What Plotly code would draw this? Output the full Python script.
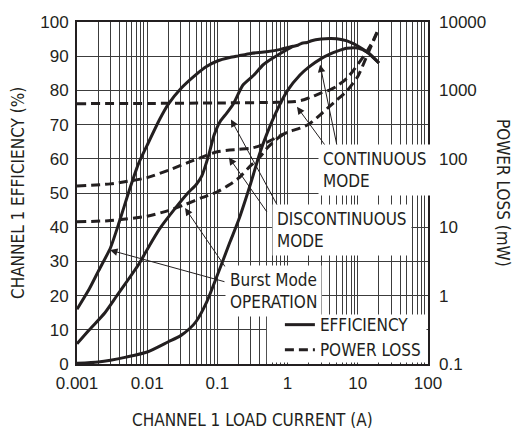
import plotly.graph_objects as go
import numpy as np

# ---------------- data ----------------
# Efficiency (%), solid lines
burst_eff_i = [0.001, 0.0015, 0.002, 0.003, 0.004, 0.0055, 0.0075, 0.01, 0.015, 0.02, 0.03, 0.05,
               0.07, 0.1, 0.15, 0.2, 0.3, 0.5, 0.8, 1.2, 1.4, 1.6, 1.9, 2.2, 3, 4, 5, 7, 10, 14, 20]
burst_eff = [16, 22, 27, 34, 41.5, 50.5, 58.5, 64, 71.5, 76, 80.5, 84.7,
             87, 88.6, 89.6, 90.1, 90.8, 91.3, 92.0, 92.9, 93.2, 93.8, 94.0, 94.5, 95.0, 95.2, 95.1, 94.5, 93.0, 91.0, 88.0]

disc_eff_i = [0.001, 0.0015, 0.0025, 0.0037, 0.0055, 0.0075, 0.01, 0.015, 0.025, 0.038, 0.05, 0.06,
              0.075, 0.09, 0.11, 0.135, 0.17, 0.23, 0.32, 0.45, 0.6, 0.87, 1.2]
disc_eff = [5.9, 10, 15, 20, 25, 29, 33.5, 39.5, 45.5, 50, 52.5, 55,
            61, 67, 71, 73.3, 76.2, 81.5, 84.2, 87.5, 89.3, 91.3, 92.9]

cont_eff_i = [0.001, 0.002, 0.003, 0.005, 0.01, 0.02, 0.03, 0.04, 0.05, 0.07, 0.1, 0.15, 0.2, 0.3,
              0.4, 0.5, 0.7, 1, 1.5, 2, 3, 4, 5, 7, 10, 14, 20]
cont_eff = [0.2, 0.6, 1.1, 2, 3.5, 6.5, 8.3, 10.3, 12.5, 18, 26, 35.5, 42, 53,
            61.5, 67, 74, 80, 84.5, 86.8, 89.3, 90.6, 91.4, 92.3, 92.4, 91, 88]

# Power loss (mW), dashed lines
cont_loss_i = [0.001, 0.01, 0.1, 0.5, 1.0, 1.3, 1.7, 2.3, 3, 4, 5, 7, 10, 13, 16, 20]
cont_loss = [640, 645, 655, 665, 675, 690, 730, 820, 920, 1020, 1150, 1500, 2400, 3500, 5000, 8200]

disc_loss_i = [0.001, 0.003, 0.01, 0.02, 0.04, 0.07, 0.1, 0.15, 0.2, 0.3, 0.4, 0.6, 0.8, 1, 1.5,
               2, 3, 4, 5, 7, 10, 14, 20]
disc_loss = [40, 43, 53, 68, 90, 112, 127, 134, 138, 143, 155, 190, 220, 245, 280,
             320, 450, 590, 720, 980, 1600, 3500, 8000]

burst_loss_i = [0.001, 0.003, 0.01, 0.02, 0.035, 0.06, 0.1, 0.15, 0.2, 0.3, 0.4, 0.5, 0.7, 0.9]
burst_loss = [12, 12.5, 14.5, 17.5, 21.5, 27, 33, 42, 52, 80, 105, 140, 195, 232]

x_ticks = [0.001, 0.01, 0.1, 1, 10, 100]
x_ticklabels = ["0.001", "0.01", "0.1", "1", "10", "100"]
y_ticks = [0, 10, 20, 30, 40, 50, 60, 70, 80, 90, 100]
y2_ticks = [0.1, 1, 10, 100, 1000, 10000]
y2_ticklabels = ["0.1", "1", "10", "100", "1000", "10000"]

# ---------------- styling ----------------
INK = "#231f20"
COND = "DejaVu Sans Condensed"
REG = "Liberation Sans"
LW = 3
DASH = "9px,5px"

fig = go.Figure()

def solid(x, y, show=False):
    fig.add_trace(go.Scatter(x=x, y=y, mode="lines", name="EFFICIENCY", showlegend=show,
                             line=dict(color=INK, width=LW, shape="spline", smoothing=0.6),
                             yaxis="y", legendrank=1))

def dashed(x, y, show=False):
    fig.add_trace(go.Scatter(x=x, y=y, mode="lines", name="POWER LOSS", showlegend=show,
                             line=dict(color=INK, width=LW, dash=DASH, shape="spline", smoothing=0.6),
                             yaxis="y2", legendrank=2))

solid(burst_eff_i, burst_eff, True)
solid(disc_eff_i, disc_eff)
solid(cont_eff_i, cont_eff)
dashed(cont_loss_i, cont_loss, True)
dashed(disc_loss_i, disc_loss)
dashed(burst_loss_i, burst_loss)

# full log grid positions: 1..9 x each decade
grid_vals = []
grid_text = []
for d in range(-3, 2):
    for m in range(1, 10):
        v = m * 10.0 ** d
        grid_vals.append(v)
        grid_text.append(x_ticklabels[x_ticks.index(v)] if m == 1 else "")
grid_vals.append(100)
grid_text.append("100")

GRID = "#3c3c3c"

# page body has an 8px margin: plot frame lands at page (77..428, 13..364)
fig.update_layout(
    width=516, height=427,
    margin=dict(l=69, r=96, t=5, b=71),
    paper_bgcolor="white", plot_bgcolor="white",
    font=dict(family=REG, color=INK, size=17),
    xaxis=dict(type="log", range=[-3, 2], tickmode="array", tickvals=grid_vals, ticktext=grid_text,
               showgrid=True, gridcolor=GRID, gridwidth=1, ticks="", ticklabelstandoff=3,
               showline=True, linecolor=INK, linewidth=2, mirror=True, zeroline=False,
               ticklabeloverflow="allow",
               tickfont=dict(family=REG, size=17, color=INK)),
    yaxis=dict(range=[0, 100], tickmode="array", tickvals=y_ticks, showgrid=True, gridcolor=GRID,
               gridwidth=1, ticks="", ticklabelstandoff=3, zeroline=False,
               showline=True, linecolor=INK, linewidth=2, mirror=True,
               ticklabeloverflow="allow",
               tickfont=dict(family=REG, size=17, color=INK)),
    yaxis2=dict(type="log", range=[-1, 4], overlaying="y", side="right", tickmode="array",
                tickvals=y2_ticks, ticktext=y2_ticklabels, showgrid=False, ticks="",
                ticklabelstandoff=10, zeroline=False, showline=False,
                ticklabeloverflow="allow",
                tickfont=dict(family=REG, size=17, color=INK)),
    legend=dict(x=0.994, y=-0.012, xanchor="right", yanchor="bottom", bgcolor="rgba(0,0,0,0)",
                borderwidth=0, font=dict(family=COND, size=17, color=INK),
                itemwidth=30, tracegroupgap=0),
    showlegend=True,
)

# white panel behind the legend (kept just inside the frame lines)
fig.add_shape(type="rect", xref="paper", yref="paper", x0=0.541, x1=0.9957, y0=0.0043, y1=0.145,
              fillcolor="white", line=dict(width=0), layer="above")

def lg(v):
    return float(np.log10(v))

# arrows (tip on the curve, tail offset in pixels)
arrows = [
    (2.9, 87.5, 18, 86),     # continuous efficiency
    (1.36, 75.2, 30, 41),    # continuous loss
    (0.156, 71.5, 47, 87),   # discontinuous efficiency
    (0.146, 60.4, 39, 56),   # discontinuous loss
    (0.00295, 33.3, 116, 32),  # burst efficiency
    (0.0346, 45.6, 41, 60),  # burst loss
]
for x, y, ax, ay in arrows:
    fig.add_annotation(x=lg(x), y=y, xref="x", yref="y", text="", showarrow=True,
                       ax=ax, ay=ay, arrowhead=2, arrowsize=1.5, arrowwidth=1, arrowcolor=INK)

labels = [
    ("CONTINUOUS<br>MODE", 2.71, 56.6),
    ("DISCONTINUOUS<br>MODE", 0.594, 39.3),
    ("Burst Mode<br>OPERATION", 0.128, 21.4),
]
for t, x, y in labels:
    fig.add_annotation(x=lg(x), y=y, xref="x", yref="y", text=t, showarrow=False,
                       xanchor="left", yanchor="middle", align="left",
                       bgcolor="white", borderpad=4,
                       font=dict(family=COND, size=17, color=INK))

# axis titles
fig.add_annotation(x=0.5, y=-0.165, xref="paper", yref="paper", text="CHANNEL 1 LOAD CURRENT (A)",
                   showarrow=False, xanchor="center", yanchor="middle",
                   font=dict(family=COND, size=17, color=INK))
fig.add_annotation(x=-0.168, y=0.5, xref="paper", yref="paper", text="CHANNEL 1 EFFICIENCY (%)",
                   showarrow=False, textangle=-90, xanchor="center", yanchor="middle",
                   font=dict(family=COND, size=17, color=INK))
fig.add_annotation(x=1.2137, y=0.5, xref="paper", yref="paper", text="POWER LOSS (mW)",
                   showarrow=False, textangle=90, xanchor="center", yanchor="middle",
                   font=dict(family=COND, size=17, color=INK))

fig.write_html("out.html")
